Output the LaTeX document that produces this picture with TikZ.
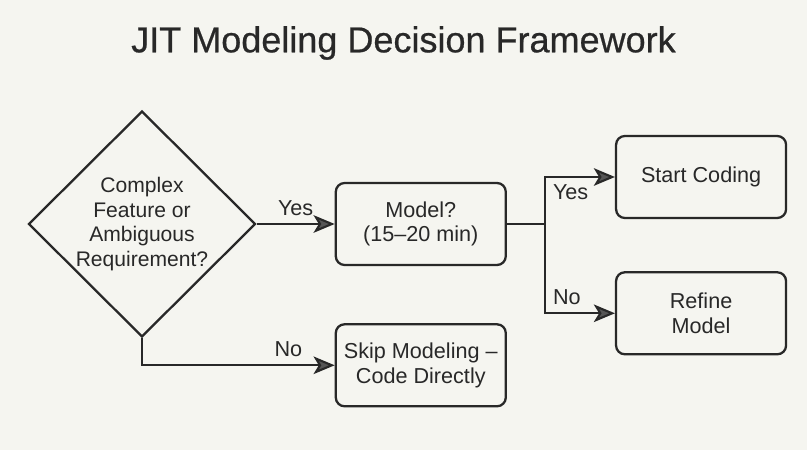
\documentclass[tikz,border=0pt]{standalone}
\usepackage{fontspec}
\setmainfont{Liberation Sans}
\newfontfamily\titlefont[FakeBold=0.6]{Liberation Sans}
\usetikzlibrary{arrows.meta, shapes.geometric, positioning}
\definecolor{paper}{RGB}{245,245,240}
\definecolor{ink}{RGB}{40,40,40}
\definecolor{tipgray}{RGB}{85,85,85}

\begin{document}
\begin{tikzpicture}[
    box/.style={
        rectangle, rounded corners=5pt, draw=ink, line width=1.3pt,
        minimum width=3.4cm, minimum height=1.64cm, align=center,
        text=ink, font=\fontsize{12.3}{14}\selectfont
    },
    dec/.style={
        diamond, draw=ink, line width=1.3pt, inner sep=0pt,
        minimum width=4.54cm, minimum height=4.44cm, align=center,
        text=ink, font=\fontsize{12}{14}\selectfont
    },
    arr/.style={
        draw=ink, line width=1.2pt,
        -{Stealth[length=12pt, width=10pt, inset=3pt, fill=tipgray]}
    },
    lbl/.style={font=\fontsize{12.3}{14}\selectfont, text=ink, inner sep=4pt}
]
\useasboundingbox[fill=paper] (0,0) rectangle (16.14,9);

\node[font=\titlefont\fontsize{20.5}{24}\selectfont, text=ink] (title) at (8.07,8.14) {JIT Modeling Decision Framework};

\node[dec] (complex) at (2.84,4.52) {Complex\\Feature or\\Ambiguous\\Requirement?};
\node[box, right=1.56cm of complex] (model) {Model?\\(15--20 min)};
\node[box, below=1.14cm of model] (skip) {Skip Modeling --\\Code Directly};
\node[box, right=2.16cm of model.east, yshift=0.94cm] (start) {Start Coding};
\node[box, below=1.04cm of start] (refine) {Refine\\Model};
\coordinate[right=0.76cm of model.east] (split);

% Main flow
\draw[arr] (complex.east) -- node[lbl, above]{Yes} (model.west);
\draw[arr] (complex.south) |- node[lbl, pos=0.88, above]{No} (skip.west);
\draw[draw=ink, line width=1.2pt] (model.east) -- (split);
\draw[arr] (split) |- node[lbl, pos=0.5, below right]{Yes} (start.west);
\draw[arr] (split) |- node[lbl, pos=0.5, above right]{No} (refine.west);

\end{tikzpicture}
\end{document}
